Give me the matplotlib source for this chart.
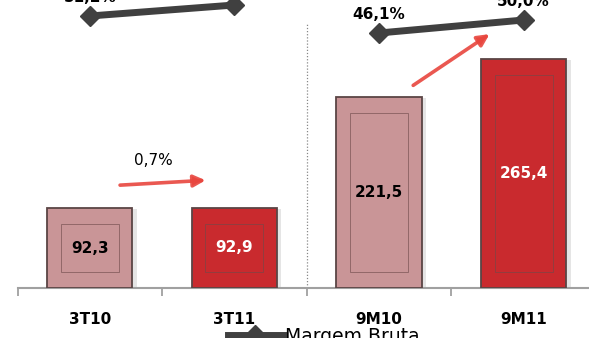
import numpy as np
import matplotlib.pyplot as plt
from matplotlib.patches import Rectangle

categorias = ["3T10", "3T11", "9M10", "9M11"]
lucro_bruto = [92.3, 92.9, 221.5, 265.4]
rotulos_barra = ["92,3", "92,9", "221,5", "265,4"]
margem = [51.2, 54.5, 46.1, 50.0]
rotulos_margem = ["51,2%", "", "46,1%", "50,0%"]
variacao = ["0,7%", ""]

cor_clara = "#c99597"
cor_escura = "#c92a2e"
cores = [cor_clara, cor_escura, cor_clara, cor_escura]
cores_texto = ["black", "white", "black", "white"]

fig = plt.figure(figsize=(5.89, 3.38), dpi=100)
ax = fig.add_axes([17.5 / 589, 50 / 338, 578.5 / 589, 288 / 338])
x = np.arange(len(categorias))
largura = 0.59

barras = ax.bar(x, lucro_bruto, width=largura, color=cores,
                edgecolor="#5a4545", linewidth=1.3, zorder=3)

# moldura interna das barras
for b in barras:
    x0, w, h = b.get_x(), b.get_width(), b.get_height()
    dx, dy = w * 0.16, 16 / 0.863
    ax.add_patch(Rectangle((x0 + dx, dy), w - 2 * dx, h - 2 * dy, fill=False,
                           edgecolor="#6e4a4a", linewidth=0.6, alpha=0.7, zorder=4))
    # sombra
    ax.add_patch(Rectangle((x0 + 0.03, -1), w, h, facecolor="#999999",
                           alpha=0.25, linewidth=0, zorder=2))

for xi, v, r, c in zip(x, lucro_bruto, rotulos_barra, cores_texto):
    ax.text(xi, v / 2, r, ha="center", va="center", fontsize=11,
            fontweight="bold", color=c, zorder=5)

ax.set_xlim(-0.5, 3.5)
ax.set_ylim(0, 288 / 0.863)
for s in ["top", "right", "left"]:
    ax.spines[s].set_visible(False)
ax.spines["bottom"].set_color("#a0a0a0")
ax.spines["bottom"].set_linewidth(1.5)
ax.set_yticks([])
ax.set_xticks(x)
ax.set_xticklabels(categorias, fontsize=11, fontweight="bold")
ax.tick_params(axis="x", which="major", length=0, pad=17)
ax.set_xticks(np.arange(-0.5, 4.0, 1.0), minor=True)
ax.tick_params(axis="x", which="minor", length=6, width=1.3, color="#a0a0a0")

# separador
ax.axvline(1.5, ymin=0, ymax=0.92, color="#888888", linestyle=(0, (1, 1.5)),
           linewidth=0.9, zorder=1)

# setas de variacao
seta = dict(arrowstyle="-|>,head_length=0.7,head_width=0.35", color="#e8463e",
            linewidth=2.6, alpha=0.9)
ax.annotate("", xy=(0.82, 125), xytext=(0.19, 119), arrowprops=seta, zorder=6)
ax.text(0.44, 148, variacao[0], ha="center", va="center", fontsize=11)
ax.annotate("", xy=(2.78, 296), xytext=(2.22, 233), arrowprops=seta, zorder=6)

# margem bruta
ax2 = ax.twinx()
ax2.set_ylim(-30.4, 56.0)
ax2.axis("off")
for par in [(0, 1), (2, 3)]:
    idx = list(par)
    ax2.plot(x[idx], np.array(margem)[idx], color="#404040", linewidth=5,
             marker="D", markersize=10, label="Margem Bruta" if idx[0] == 0 else None,
             zorder=7)
for xi, m, r in zip(x, margem, rotulos_margem):
    if r:
        ax2.text(xi, m + 5.5, r, ha="center", va="center", fontsize=11,
                 fontweight="bold")

ax2.legend(loc="center", bbox_to_anchor=(0.53, -0.167), frameon=False,
           fontsize=13.5, handlelength=2.9, handletextpad=0.15)

fig.savefig("out.png", dpi=100)
